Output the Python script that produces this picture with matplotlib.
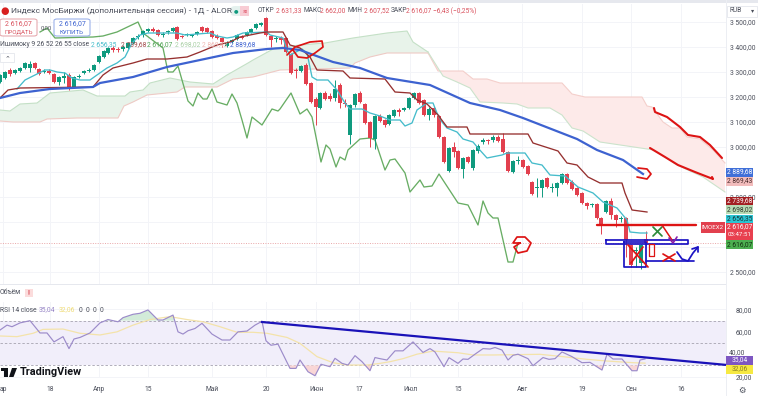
import numpy as np
import matplotlib
matplotlib.use("Agg")
import matplotlib.pyplot as plt
from matplotlib.patches import Rectangle, FancyBboxPatch, Polygon

plt.rcParams['font.family'] = ['Roboto', 'DejaVu Sans']

W, H = 758, 396
BAR_STEP = 4.93   # time scale units per session

# ---------------- candles
opens = [3260,3276,3308,3296,3304,3316,3316,3336,3312,3300,3304,3292,3260,3278,3288,3240,3280,3296,3304,3308,
         3340,3360,3376,3396,3392,3392,3396,3416,3440,3448,3464,3472,3468,3448,3460,3464,3480,3444,3448,3444,
         3452,3480,3476,3464,3444,3436,3404,3420,3432,3440,3448,3460,3476,3488,3516,3444,3432,3436,3436,3372,
         3308,3304,3328,3256,3192,3156,3216,3204,3196,3248,3176,3048,3168,3216,3172,3100,3032,3124,3108,3092,
         3124,3148,3148,3156,3196,3216,3188,3128,3156,3124,3040,2904,3000,2984,2912,2960,2916,2984,3020,3028,
         3028,3040,3032,2980,2900,2944,2948,2924,2860,2836,2836,2876,2836,2836,2856,2892,2860,2836,2816,2776,
         2768,2772,2716,2740,2784,2728,2712,2716,2608,2584,2536,2631]
highs = [3292,3304,3316,3312,3320,3340,3344,3340,3316,3310,3312,3296,3284,3300,3296,3284,3290,3308,3316,3332,
         3368,3388,3400,3404,3400,3408,3420,3440,3452,3468,3476,3480,3472,3460,3468,3480,3484,3448,3456,3452,
         3464,3484,3480,3468,3452,3440,3424,3432,3452,3448,3464,3476,3496,3500,3520,3448,3444,3444,3440,3376,
         3316,3328,3336,3260,3200,3220,3224,3216,3268,3256,3190,3172,3216,3224,3176,3104,3128,3132,3112,3132,
         3152,3156,3160,3200,3220,3220,3192,3160,3164,3128,3044,3000,3020,2988,2960,2964,2992,3010,3036,3032,
         3048,3048,3056,2984,2948,2964,2952,2928,2864,2876,2872,2880,2856,2860,2896,2896,2868,2840,2820,2780,
         2776,2776,2720,2788,2796,2732,2724,2720,2612,2600,2612,2662]
lows = [3256,3272,3284,3292,3300,3312,3300,3312,3288,3296,3292,3256,3248,3254,3228,3236,3276,3290,3300,3304,
        3336,3356,3372,3380,3380,3384,3392,3412,3432,3440,3460,3460,3444,3440,3452,3460,3428,3436,3444,3440,
        3448,3460,3456,3436,3430,3400,3400,3416,3428,3430,3444,3456,3472,3484,3444,3400,3420,3412,3376,3290,
        3276,3300,3248,3176,3088,3150,3188,3184,3184,3156,3160,3012,3160,3176,3092,3000,2990,3100,3080,3088,
        3120,3124,3144,3152,3190,3172,3124,3108,3120,3036,2936,2900,2960,2912,2876,2936,2908,2976,3012,3012,
        3020,3020,2976,2900,2896,2930,2916,2888,2808,2800,2800,2836,2820,2804,2852,2852,2828,2804,2772,2750,
        2760,2712,2652,2736,2710,2680,2700,2560,2520,2520,2510,2607]
closes = [3288,3300,3292,3308,3316,3336,3332,3316,3292,3304,3296,3260,3280,3282,3232,3280,3284,3304,3308,3328,
          3364,3384,3396,3388,3388,3400,3416,3436,3444,3464,3472,3464,3448,3452,3464,3476,3432,3440,3452,3448,
          3460,3464,3460,3440,3436,3420,3420,3428,3448,3436,3460,3472,3492,3496,3448,3428,3436,3428,3380,3296,
          3304,3324,3252,3180,3160,3216,3192,3192,3232,3176,3172,3168,3212,3180,3096,3036,3124,3104,3088,3128,
          3148,3140,3156,3196,3216,3176,3128,3152,3128,3040,2940,2996,2980,2916,2956,2940,2988,3004,3028,3024,
          3040,3024,2980,2904,2944,2948,2920,2892,2812,2840,2868,2840,2840,2856,2892,2856,2832,2808,2776,2764,
          2772,2716,2684,2784,2728,2708,2716,2628,2528,2588,2608,2616]

# ---------------- ichimoku and slow average, time scale position / price
tenkan_x = [17,25,35,45,50,57,65,72,80,90,97,107,117,125,132,140,148,177,185,210,217,227,233,243,267,270,283,287,290,
            302,307,312,317,328,337,345,350,362,370,380,390,400,405,412,417,427,433,437,442,447,457,463,473,478,487,
            502,507,525,532,542,550,565,578,593,603,617,627,630,640,647]
tenkan = [3232,3268,3288,3308,3308,3300,3296,3276,3268,3268,3288,3316,3336,3360,3416,3448,3456,3456,3448,3456,3444,
          3436,3440,3456,3460,3448,3436,3388,3368,3392,3376,3280,3268,3268,3228,3176,3152,3152,3136,3124,3108,3108,
          3084,3096,3148,3176,3176,3136,3100,3076,3060,3032,3020,2996,2956,2968,2976,2976,2936,2928,2888,2884,2840,
          2816,2780,2756,2708,2660,2656,2656]
kijun_x = [0,8,20,93,103,113,133,147,167,187,200,217,230,240,260,267,283,290,300,310,317,343,350,385,395,410,417,427,
           430,438,447,467,470,528,533,558,567,577,588,600,622,625,632,647]
kijun = [3196,3228,3236,3240,3288,3316,3336,3352,3352,3360,3380,3408,3420,3440,3456,3460,3460,3408,3396,3360,3308,
         3304,3276,3272,3220,3216,3188,3172,3160,3128,3080,3080,3052,3052,3016,2984,2936,2928,2880,2856,2856,2816,
         2748,2740]
slow_x = [0,20,50,93,100,133,167,200,233,267,283,300,333,360,387,430,470,500,523,577,597,623,643]
slow = [3196,3216,3232,3240,3256,3280,3320,3348,3376,3392,3396,3388,3340,3316,3276,3248,3176,3148,3116,3032,2988,
        2948,2892]
chikou_x = [40,47,55,93,103,117,138,143,163,168,173,178,188,193,198,203,207,212,217,227,232,237,242,247,252,262,272,
            278,280,291,300,307,312,321,326,330,336,340,345,348,360,370,375,385,390,395,405,410,420,424,432,439,458,
            468,478,483,488,493,498,508,513,518]
chikou = [3460,3476,3436,3440,3444,3460,3500,3456,3396,3300,3300,3324,3184,3164,3216,3192,3192,3232,3180,3168,3212,
          3176,3108,3036,3120,3088,3152,3144,3152,3216,3132,3152,3120,2940,3008,2992,2920,2960,2948,2988,3032,3036,
          3028,2908,2948,2952,2896,2820,2868,2840,2844,2892,2776,2768,2688,2784,2736,2716,2716,2540,2540,2616]

# cloud edges
green_top_x = [0,10,20,37,50,83,97,125,130,143,150,170,190,213,227,248,253,275,300,325,353,387,407,413,428]
green_top = [3148,3144,3172,3176,3216,3228,3204,3204,3220,3228,3256,3276,3260,3252,3288,3336,3348,3396,3408,3416,
             3436,3456,3464,3420,3380]
green_bot_x = [0,13,40,47,77,118,124,133,147,177,185,217,233,253,280,350,355,370,387,428]
green_bot = [3104,3100,3100,3112,3116,3116,3164,3180,3208,3220,3240,3240,3272,3280,3308,3316,3336,3360,3376,3376]
red_top_x = [428,438,463,473,487,500,562,572,585,642,647,652,663,672,680,687,700,713,725]
red_top = [3376,3304,3304,3272,3272,3256,3256,3212,3200,3200,3164,3160,3100,3076,3076,3040,3032,2988,2936]
red_bot_x = [428,433,443,457,470,480,503,517,528,550,562,572,583,600,654,677,703,725]
red_bot = [3380,3348,3284,3260,3236,3180,3176,3172,3156,3156,3128,3076,3064,3020,2988,2928,2880,2820]

# ---------------- RSI
rsi_x = [0,7,12,20,30,40,47,54,63,69,74,80,90,100,108,118,123,133,140,148,158,163,173,178,183,188,195,202,212,222,230,
         238,247,255,262,266,271,278,290,296,300,308,315,321,330,335,342,348,355,362,370,375,380,387,395,403,413,423,
         430,435,444,449,458,463,468,475,483,490,495,502,508,513,518,528,533,543,549,555,562,572,582,590,602,607,613,
         622,632,637,640,645]
rsi = [61.6,66,64.6,68,70,59,59,51,55.7,45,53.6,55,59,68,71,69,72.7,75.7,76.6,79.6,70.6,70.6,75,60,58,61,63,67.6,58,
       52.7,52.7,60,60.7,66,69.4,52,48,49,27.3,27.3,34.8,24.3,20.7,31,28.8,36.3,31.8,30.3,38.7,33.3,25.2,37,36,34.8,
       43,43,51,41.6,45,42,28.8,36.9,31.8,35.7,35.4,40,45,44.6,46,43.7,34.8,39,40,36,29.7,37,35.4,36,42,37.8,32.4,
       32.7,25.8,40,35.7,35.7,25.2,25.2,34.8,35.7]
rsi_ma_x = [0,17,33,43,63,80,100,117,133,150,170,187,203,220,237,253,267,287,300,317,333,347,367,380,390,403,417,433,
            458,473,493,540,563,587,607,633,645]
rsi_ma = [56.3,55.7,58.7,62.2,62.5,58.7,57.2,60,66,71,73.6,71,69,64.6,59.6,59.6,58.7,55,49.7,37.8,32.4,30.3,30.3,31.8,
          33.3,36,40,42.8,41.3,39.3,39.3,39.9,37.8,35.4,33.9,32.4,32]

# the tags on the right hide the 2 900, 2 700 and 2 600 labels in the screenshot
price_ticks = [3500,3400,3300,3200,3100,3000,2900,2800,2700,2600,2500]
price_tick_labels = ["3 500,00","3 400,00","3 300,00","3 200,00","3 100,00","3 000,00","","2 800,00","","","2 500,00"]
rsi_ticks = [80,60,20]
rsi_tick_labels = ["80,00","60,00","20,00"]
date_pos = [3,50,99,148,212,266,316,359,410,458,522,582,631,681]
date_labels = ["ар","18","Апр","15","Май","20","Июн","17","Июл","15","Авг","19","Сен","16"]
last_price = 2616.07

RED = "#e2404e"
GREEN = "#0f9a7e"
PEN_RED = "#dd1414"
PEN_BLUE = "#1c14c4"
TEAL = "#45bccb"
DARKRED = "#96302f"
BLUE = "#3d62d0"
CHIKOU = "#68ad64"
GRID = "#f3f4f8"
TEXT = "#4a4e5a"


def px_axes(x0, y0, x1, y1):
    return fig.add_axes([x0 / W, 1 - y1 / H, (x1 - x0) / W, (y1 - y0) / H])


def ftext(x, y, s, **kw):
    kw.setdefault("va", "center")
    kw.setdefault("fontsize", 4.9)
    kw.setdefault("color", TEXT)
    return fig.text(x / W, 1 - y / H, s, **kw)


def frect(x0, y0, x1, y1, **kw):
    fig.add_artist(Rectangle((x0 / W, 1 - y1 / H), (x1 - x0) / W, (y1 - y0) / H, transform=fig.transFigure, **kw))


def price_tag(x0, x1, yc, h, label, bg, fg):
    frect(x0, yc - h / 2, x1, yc + h / 2, facecolor=bg, edgecolor="none", zorder=5)
    ftext((x0 + x1) / 2, yc, label, ha="center", color=fg, fontsize=4.8, zorder=6)


def pen(ax, xs, ys, color=PEN_RED, lw=1.25):
    ax.plot(xs, ys, color=color, lw=lw, zorder=9, solid_capstyle="round", solid_joinstyle="round", clip_on=False)


fig = plt.figure(figsize=(W / 100, H / 100), dpi=100, facecolor="white")
ax = px_axes(0, 4, 726, 284)
rs = px_axes(0, 302, 726, 378)

# ---------------- main pane
t = np.arange(len(opens)) * BAR_STEP
ax.set_xlim(0, 726)
ax.set_ylim(2452, 3572)
ax.set_xticks(date_pos)
ax.set_yticks(price_ticks)
ax.set_yticklabels(price_tick_labels)
ax.yaxis.tick_right()
ax.tick_params(axis="x", length=0, labelbottom=False)
ax.tick_params(axis="y", length=0, labelsize=4.9, labelcolor=TEXT, pad=3)
ax.grid(color=GRID, lw=0.7)
ax.set_axisbelow(True)
for s in ax.spines.values():
    s.set_visible(False)

ax.fill(green_top_x + green_bot_x[::-1], green_top + green_bot[::-1], color="#e8f3ea", lw=0, zorder=1)
ax.fill(red_top_x + red_bot_x[::-1], red_top + red_bot[::-1], color="#fdeae9", lw=0, zorder=1)
ax.plot(green_top_x, green_top, color="#c4e0c6", lw=0.8, zorder=2)
ax.plot(green_bot_x, green_bot, color="#eecac5", lw=0.8, zorder=2)
ax.plot(red_top_x, red_top, color="#f4cfcb", lw=0.8, zorder=2)
ax.plot(red_bot_x, red_bot, color="#cce3cc", lw=0.8, zorder=2)

ax.axhline(last_price, color="#e9a6a8", lw=0.7, ls=(0, (1, 1.5)), zorder=2)

ax.plot(chikou_x, chikou, color=CHIKOU, lw=0.95, zorder=3)

colors = [GREEN if c >= o else RED for o, c in zip(opens, closes)]
ax.vlines(t, lows, highs, colors=colors, lw=0.7, zorder=4)
ax.bar(t, np.abs(np.array(closes) - np.array(opens)) + 2, bottom=np.minimum(opens, closes) - 1, width=4.0,
       color=colors, lw=0, zorder=4)

ax.plot(tenkan_x, tenkan, color=TEAL, lw=0.95, zorder=5)
ax.plot(kijun_x, kijun, color=DARKRED, lw=0.95, zorder=5)
ax.plot(slow_x, slow, color=BLUE, lw=1.6, zorder=6)

# hand drawn marks
pen(ax, [287,295,310,322,323,315,307,298,293], [3368,3400,3420,3424,3400,3376,3356,3360,3388])
pen(ax, [520,513,517,525,531,527,518,514,520], [2616,2616,2640,2640,2616,2584,2576,2600,2616])
pen(ax, [637,647,651,647,638], [2880,2872,2892,2912,2916])
pen(ax, [654,655,667,680,688,700,710,722], [3156,3140,3120,3080,3048,3040,3008,2956], lw=1.5)
pen(ax, [650,665,678,695,713,712], [2996,2960,2928,2900,2872,2880], lw=1.5)
pen(ax, [597,696], [2688,2688], lw=1.7)
pen(ax, [606,688,688,606,606], [2628,2628,2612,2612,2628], color=PEN_BLUE)
pen(ax, [624,646,646,624,624], [2620,2620,2520,2520,2620], color=PEN_BLUE)
pen(ax, [646,694], [2544,2544], color=PEN_BLUE)
pen(ax, [628,648], [2608,2520])
pen(ax, [643,631], [2600,2536])
pen(ax, [663,675], [2572,2544])
pen(ax, [663,675], [2544,2572])
pen(ax, [653,662], [2680,2644], color="#2a8a3a")
pen(ax, [653,662], [2644,2680], color="#2a8a3a")
pen(ax, [649,654,654,649,649], [2612,2612,2564,2564,2612], lw=0.9)
pen(ax, [662,672], [2688,2628], lw=1.1)
pen(ax, [669,673,677], [2636,2616,2640], color="#8a1fa8", lw=1.2)
pen(ax, [677,682,688,693,698], [2580,2552,2544,2576,2600], color=PEN_BLUE)
pen(ax, [692,698,698], [2592,2600,2580], color=PEN_BLUE)

# ---------------- RSI pane
rsi_arr = np.array(rsi)
rs.set_xlim(0, 726)
rs.set_ylim(18.7, 86.7)
rs.set_xticks(date_pos)
rs.set_xticklabels(date_labels)
rs.set_yticks(rsi_ticks)
rs.set_yticklabels(rsi_tick_labels)
rs.yaxis.tick_right()
rs.tick_params(axis="both", length=0, labelsize=4.9, labelcolor=TEXT)
rs.tick_params(axis="x", pad=5.5)
rs.tick_params(axis="y", pad=7)
rs.grid(color=GRID, lw=0.7)
rs.set_axisbelow(True)
for s in rs.spines.values():
    s.set_visible(False)
rs.axhspan(30, 70, color="#f1eefa", lw=0, zorder=1)
for lev in [70, 50, 30]:
    rs.axhline(lev, color="#b0adba", lw=0.7, ls=(0, (2.5, 2)), zorder=2)
rs.fill_between(rsi_x, rsi_arr, 70, where=rsi_arr > 70, interpolate=True, color="#d2ebd9", lw=0, zorder=2)
rs.fill_between(rsi_x, rsi_arr, 30, where=rsi_arr < 30, interpolate=True, color="#f9d6d6", lw=0, zorder=2)
rs.plot(rsi_ma_x, rsi_ma, color="#f4e3aa", lw=0.9, zorder=3)
rs.plot(rsi_x, rsi, color="#9c8bca", lw=0.85, zorder=4)
rs.plot([262, 748], [68.8, 28.6], color="#1a12b8", lw=1.6, zorder=8, clip_on=False)

# ---------------- header, legend rows
frect(0, 0, W, 2.5, facecolor="#e6e8ee", edgecolor="none")
ftext(0.5, 11, "●", color="#d81e1e", fontsize=7)
ftext(11, 11, "Индекс МосБиржи (дополнительная сессия) - 1Д - ALOR", fontsize=6.0)
fig.add_artist(FancyBboxPatch((231 / W, 1 - 16 / H), 18 / W, 10 / H, boxstyle="round,pad=0,rounding_size=0.006",
                              transform=fig.transFigure, facecolor="#e4f1ee", edgecolor="none"))
frect(240, 6, 249, 16, facecolor="#f8ccd4", edgecolor="none")
ftext(233.5, 11, "●", color="#0f9a7e", fontsize=3.8)
ftext(242, 11, "≋", color="#d8344a", fontsize=3.8)

ohlc_names = ["ОТКР", "МАКС", "МИН", "ЗАКР"]
ohlc_name_x = [258, 303, 348, 391]
ohlc_values = ["2 631,33", "2 662,00", "2 607,52", "2 616,07"]
ohlc_value_x = [276, 320, 364, 406]
for nm, nx, vl, vx in zip(ohlc_names, ohlc_name_x, ohlc_values, ohlc_value_x):
    ftext(nx, 11, nm, fontsize=4.7)
    ftext(vx, 11, vl, color="#d9505c", fontsize=4.8)
ftext(433, 11, "−6,43 (−0,25%)", color="#d9505c", fontsize=4.8)

for x0, x1, col, top, bot in [(0, 37, "#e3a0a6", "2 616,07", "ПРОДАТЬ"), (54, 90, "#8fa8e8", "2 616,07", "КУПИТЬ")]:
    fc = "#d9505c" if col == "#e3a0a6" else "#3d62d0"
    fig.add_artist(FancyBboxPatch((x0 / W, 1 - 36 / H), (x1 - x0) / W, 17 / H, boxstyle="round,pad=0,rounding_size=0.004",
                                  transform=fig.transFigure, facecolor="white", edgecolor=col, lw=0.7, zorder=5))
    ftext((x0 + x1) / 2, 24, top, ha="center", color=fc, fontsize=5.0, zorder=6)
    ftext((x0 + x1) / 2, 32, bot, ha="center", color=fc, fontsize=4.4, zorder=6)
ftext(41, 28, "0,00", fontsize=4.2, zorder=6)

ftext(0, 45, "Ишимоку 9 26 52 26 55 close", fontsize=4.9, zorder=6)
ichi_vals = ["2 656,35", "2 739,68", "2 616,07", "2 698,02", "2 869,43", "2 889,68"]
ichi_x = [91, 121, 147, 175, 202, 230]
ichi_col = [TEAL, "#a04648", "#4fa354", "#a9cfa6", "#efb7b2", BLUE]
for lx, lv, lc in zip(ichi_x, ichi_vals, ichi_col):
    ftext(lx, 45, lv, color=lc, fontsize=4.8, zorder=6)
frect(0, 53, 14, 62, facecolor="white", edgecolor="#e4e6ec", lw=0.6, zorder=5)
ftext(7, 58, "⌃", ha="center", fontsize=5, zorder=6, family=['DejaVu Sans'])

frect(0, 284, 726, 284.6, facecolor="#e6e8ee", edgecolor="none")
frect(0, 301.6, 726, 302.2, facecolor="#e6e8ee", edgecolor="none")
ftext(0, 293, "Объём", fontsize=4.9)
frect(25, 289, 33, 297, facecolor="#fbdcdc", edgecolor="none")
ftext(29, 293, "!", ha="center", color="#d9505c", fontsize=5.0, fontweight="bold")

ftext(0, 310, "RSI 14 close", fontsize=4.9, zorder=6)
ftext(39, 310, "35,04", color="#9785c6", fontsize=4.9, zorder=6)
ftext(59, 310, "32,06", color="#efdc78", fontsize=4.9, zorder=6)
ftext(79, 310, "0  0  0  0", fontsize=4.9, zorder=6)

# logo
frect(1, 368, 8, 371, facecolor="#101218", edgecolor="none", zorder=6)
frect(4, 368, 8, 377, facecolor="#101218", edgecolor="none", zorder=6)
fig.add_artist(Polygon([[12 / W, 1 - 368 / H], [17 / W, 1 - 368 / H], [13.5 / W, 1 - 377 / H], [9 / W, 1 - 377 / H]],
                       closed=True, transform=fig.transFigure, facecolor="#101218", edgecolor="none", zorder=6))
ftext(20, 372, "TradingView", color="#101218", fontsize=7.8, fontweight="bold", zorder=6)

# ---------------- price tags on the right
frect(726, 0, 726.5, 396, facecolor="#eceef3", edgecolor="none")
price_tag(726, 753, 172, 9, "2 889,68", "#3f6fd8", "white")
price_tag(726, 753, 181, 9, "2 869,43", "#f2bcbc", "#4a2c2c")
price_tag(726, 753, 201, 9, "2 739,68", "#a31f22", "white")
price_tag(726, 753, 210, 9, "2 698,02", "#b7dab4", "#2c3a2c")
price_tag(726, 753, 218.5, 8, "2 656,35", "#2bc4d2", "#16383c")
frect(701, 222, 725, 233, facecolor="#e2404e", edgecolor="none", zorder=5)
ftext(713, 227.5, "IMOEX2", ha="center", color="white", fontsize=4.4, zorder=6)
frect(726, 222.5, 753, 240, facecolor="#e8404f", edgecolor="none", zorder=5)
ftext(739.5, 227, "2 616,07", ha="center", color="white", fontsize=4.8, zorder=6)
ftext(739.5, 235, "03:47:51", ha="center", color="white", fontsize=4.4, zorder=6)
price_tag(726, 753, 244.5, 9, "2 616,07", "#4caf50", "#12300f")
price_tag(726, 753, 360, 9, "35,04", "#7e57c2", "white")
price_tag(726, 753, 369, 9, "32,06", "#f6e942", "#8a8220")
ftext(729, 353, "40,00", fontsize=4.9, zorder=4)

frect(727, 6, 757, 16.5, facecolor="white", edgecolor="#e4e6ec", lw=0.6, zorder=5)
ftext(729, 11, "RUB", fontsize=4.8, zorder=6)
ftext(751, 11, "▾", fontsize=4.5, zorder=6, family=['DejaVu Sans'])
ftext(742, 390, "⚙", ha="center", fontsize=6, family=['DejaVu Sans'])

fig.savefig("out.png", dpi=100)
